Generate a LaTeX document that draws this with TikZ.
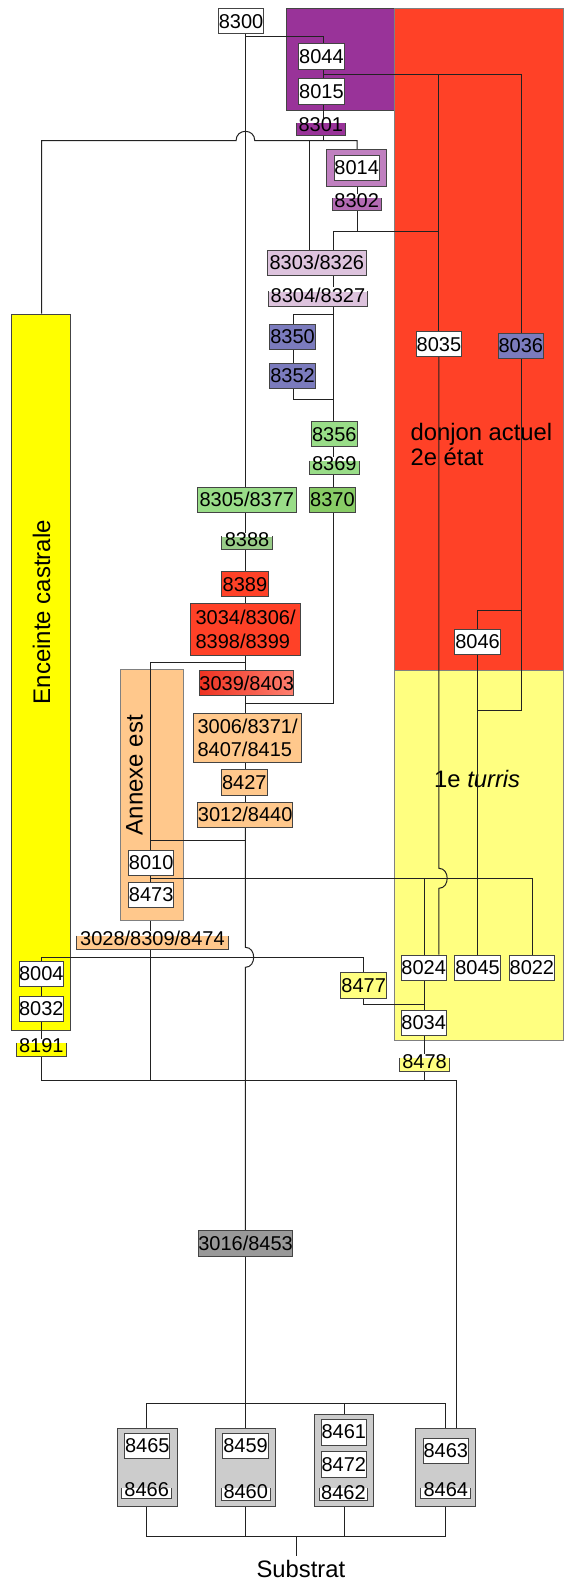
\documentclass[tikz,border=0pt]{standalone}
\usepackage{fontspec}
\setmainfont{Liberation Sans}
\usetikzlibrary{fit}
\definecolor{cPurple}{HTML}{993399}
\definecolor{cRed}{HTML}{FF4127}
\definecolor{cTurris}{HTML}{FFFF80}
\definecolor{cEnc}{HTML}{FFFF00}
\definecolor{cPeach}{HTML}{FFC88C}
\definecolor{cMauve}{HTML}{C080C0}
\definecolor{cMauveB}{HTML}{B36BB3}
\definecolor{cLilac}{HTML}{DDC3DD}
\definecolor{cViolet}{HTML}{7B7BBD}
\definecolor{cGreen}{HTML}{99DD88}
\definecolor{cGreenB}{HTML}{88CC66}
\definecolor{cGreenC}{HTML}{99CC88}
\definecolor{cGrey}{HTML}{999999}
\definecolor{cLight}{HTML}{CCCCCC}
\definecolor{cBord}{HTML}{444444}
\definecolor{cLine}{HTML}{222222}
\definecolor{cRedL}{HTML}{FF8070}
\definecolor{cRedD}{HTML}{EE3322}
\pgfdeclarelayer{regions}
\pgfdeclarelayer{lines}
\pgfsetlayers{regions,lines,main}
\newcommand{\mkbox}[7]{\node[cell, fill=#6, minimum width={(#4-#2)*0.551pt}, minimum height={(#5-#3)*0.5pt}] (n#1) at ({(#2+#4)/2},{(#3+#5)/2}) {#7};}
\newcommand{\mklab}[8]{%
  \node[brk, fill=#6, minimum width={(#4-#2)*0.551pt}, minimum height={(#5-#3)*0.5pt}] (f#1) at ({(#2+#4)/2},{(#3+#5)/2}) {};
  \draw[cBord, line width=0.5pt] (f#1.north west) -- (f#1.south west) -- (f#1.south east) -- (f#1.north east);
  \node[txt] (n#1) at ({(#2+#4)/2},#8) {#7};}
\begin{document}
\begin{tikzpicture}[x=0.551pt,y=-0.5pt,
  every node/.style={font=\fontsize{10}{11.7}\selectfont, text=black},
  cell/.style={rectangle, draw=cBord, line width=0.5pt, inner sep=0pt, align=left},
  brk/.style={rectangle, draw=none, inner sep=0pt},
  txt/.style={inner sep=0pt},
  region/.style={rectangle, inner sep=0pt, line width=0.5pt},
  big/.style={font=\fontsize{11.9}{12.5}\selectfont},
  conn/.style={draw=cLine, line width=0.5pt}]
\useasboundingbox (0,0) rectangle (522.7,1584);
\coordinate (cM) at (222.7,0);
\coordinate (cA) at (293.3,0);
\coordinate (cB) at (281,0);
\coordinate (cC) at (324,0);
\coordinate (cD) at (302.3,0);
\coordinate (cE) at (266.3,0);
\coordinate (cF) at (398.3,0);
\coordinate (cG) at (473,0);
\coordinate (cH) at (433.3,0);
\coordinate (cI) at (37.7,0);
\coordinate (cJ) at (136.7,0);
\coordinate (cK) at (385,0);
\coordinate (cL) at (483,0);
\coordinate (cN) at (330,0);
\coordinate (cO) at (414,0);
\coordinate (cP) at (133.3,0);
\coordinate (cR) at (312.3,0);
\coordinate (cQ) at (404,0);
\coordinate (cS) at (269,0);

\begin{pgfonlayer}{regions}
\node[region, fill=cPurple, draw=cBord, fit={(260,9)(357.7,111)}] (rPurple) {};
\node[region, fill=cRed, draw=gray, fit={(357.7,9)(511,670)}] (rRed) {};
\node[region, fill=cTurris, draw=gray, fit={(357.7,670)(511,1040.7)}] (rTurris) {};
\node[region, fill=cEnc, draw=cBord, fit={(10.7,314)(64.3,1030.7)}] (enc) {};
\node[region, fill=cPeach, draw=gray, fit={(109.3,669.3)(166.7,920)}] (annexe) {};
\node[big, anchor=north west, align=left, inner sep=0pt] (tDonjon) at (372.3,423) {donjon actuel\\2e état};
\node[big, inner sep=0pt] (tTurris) at (433,779) {1e \textit{turris}};
\node[font=\fontsize{12}{14}\selectfont, rotate=90, inner sep=0pt] (tEnc) at (37.7,612) {Enceinte castrale};
\node[font=\fontsize{12}{14}\selectfont, rotate=90, inner sep=0pt] (tAnn) at (122,775) {Annexe est};
\end{pgfonlayer}

\mkbox{8300}{198.3}{9}{239.3}{34}{white}{8300}
\mkbox{8044}{271}{43.7}{312.3}{69.3}{white}{8044}
\mkbox{8015}{271}{79}{312.3}{104.3}{white}{8015}
\mklab{8301}{269}{123.3}{313.3}{135}{cPurple}{8301}{125}
\node[cell, fill=cMauve, minimum width=30.14pt, minimum height=18.35pt] (o8014) at (323.35,167.65) {};
\mkbox{8014}{303.3}{155}{344}{180.7}{white}{8014}
\mklab{8302}{301.7}{198.3}{345.7}{210}{cMauveB}{8302}{201}
\mkbox{8303}{242.7}{250}{332.3}{275}{cLilac}{8303/8326}
\mklab{8304}{244.3}{291.7}{332.7}{305.7}{cLilac}{8304/8327}{295}
\mkbox{8350}{245}{324.3}{286}{349.3}{cViolet}{8350}
\mkbox{8352}{245}{363.3}{286}{388.3}{cViolet}{8352}
\mkbox{8035}{377.7}{331.7}{419}{356.7}{white}{8035}
\mkbox{8036}{452.3}{333.3}{493}{358.7}{cViolet}{8036}
\mkbox{8356}{282.7}{421.7}{324}{446.7}{cGreen}{8356}
\mklab{8369}{281}{461}{325.7}{474}{cGreen}{8369}{464}
\mkbox{8305}{179}{487}{269}{512.3}{cGreen}{8305/8377}
\mkbox{8370}{281}{487}{322.3}{512.3}{cGreenB}{8370}
\mklab{8388}{201.7}{536.7}{246.7}{549.3}{cGreenC}{8388}{540}
\mkbox{8389}{201.3}{571.7}{243.3}{596.7}{cRed}{8389}
\mkbox{3034}{173}{603.3}{272.7}{655}{cRed}{3034/8306/\\8398/8399}
\mkbox{8046}{412.7}{629}{454}{654}{white}{8046}
\node[cell, left color=cRedD, right color=cRedL, minimum width=47.22pt, minimum height=12.5pt] (n3039) at (223.85,683.2) {3039/8403};
\mkbox{3006}{176}{713.3}{273.3}{762.7}{cPeach}{3006/8371/\\8407/8415}
\mkbox{8427}{201}{769.3}{242.3}{795}{cPeach}{8427}
\mkbox{3012}{180}{802.3}{265}{827.3}{cPeach}{3012/8440}
\mkbox{8010}{116.7}{850}{157.7}{875.7}{white}{8010}
\mkbox{8473}{116.7}{882.3}{157.7}{907.3}{white}{8473}
\mklab{3028}{70}{936}{206.7}{949}{cPeach}{3028/8309/8474}{938.3}
\mkbox{8004}{17.3}{961}{57.7}{986.7}{white}{8004}
\mkbox{8032}{17.3}{996}{57.7}{1021.7}{white}{8032}
\mkbox{8477}{309.3}{972.7}{350.7}{998.3}{cTurris}{8477}
\mkbox{8024}{364}{955}{405}{980}{white}{8024}
\mkbox{8045}{412.7}{955}{454}{980}{white}{8045}
\mkbox{8022}{462.3}{955}{503}{980}{white}{8022}
\mkbox{8034}{364}{1010}{405}{1035.7}{white}{8034}
\mklab{8191}{15}{1043.3}{60}{1056}{cEnc}{8191}{1046}
\mklab{8478}{363.3}{1058.3}{407.3}{1071}{cTurris}{8478}{1061.3}
\mkbox{3016}{180}{1230.3}{265.7}{1256}{cGrey}{3016/8453}
\mkbox{o8465}{106.7}{1428.3}{160.7}{1506}{cLight}{}
\mkbox{o8459}{195.7}{1428.3}{250}{1506}{cLight}{}
\mkbox{o8461}{285}{1414}{339.3}{1506}{cLight}{}
\mkbox{o8463}{377.3}{1428.3}{431.7}{1506}{cLight}{}
\mkbox{8465}{113.3}{1433.3}{154}{1458.3}{white}{8465}
\mklab{8466}{111}{1488.3}{155.3}{1498.3}{white}{8466}{1489.7}
\mkbox{8459}{202.3}{1433.3}{243.3}{1458.3}{white}{8459}
\mklab{8460}{201}{1488.3}{245}{1500}{white}{8460}{1491.7}
\mkbox{8461}{291.7}{1419}{332.3}{1445}{white}{8461}
\mkbox{8472}{291.7}{1451.7}{332.3}{1477.3}{white}{8472}
\mklab{8462}{290}{1488.3}{333.3}{1500}{white}{8462}{1492.5}
\mkbox{8463}{384}{1438.3}{425}{1463.3}{white}{8463}
\mklab{8464}{382.3}{1488}{426.7}{1498.3}{white}{8464}{1489.5}
\node[big, inner sep=0pt] (sub) at (273,1569) {Substrat};

\begin{pgfonlayer}{lines}
\draw[conn] (n8300.south -| cM) -- (n8305.north -| cM);
\draw[conn] (222.7,36.7) -| (n8044.north -| cA);
\draw[conn] (n8044.south -| cA) -- (n8015.north -| cA);
\draw[conn] (293.3,74.3) -- (473,74.3) -- (n8036.north -| cG);
\draw[conn] (398.3,74.3) -- (n8035.north -| cF);
\draw[conn] (n8015.south -| cA) -- (n8301.north -| cA);
\draw[conn] (f8301.south -| cA) -- (293.3,140.7);
\draw[conn] (enc.north -| cI) -- (37.7,140.7) -- (214.2,140.7)
   .. controls (214.2,128.2) and (231.2,128.2) .. (231.2,140.7) -- (324,140.7) -- (o8014.north -| cC);
\draw[conn] (281,140.7) -- (n8303.north -| cB);
\draw[conn] (o8014.south -| cC) -- (n8302.north -| cC);
\draw[conn] (f8302.south -| cC) -- (324,231.7);
\draw[conn] (n8303.north -| cD) -- (302.3,231.7) -- (398.3,231.7);
\draw[conn] (n8303.south -| cD) -- (n8304.north -| cD);
\draw[conn] (f8304.south -| cD) -- (n8356.north -| cD);
\draw[conn] (302.3,314) -| (n8350.north -| cE);
\draw[conn] (n8350.south -| cE) -- (n8352.north -| cE);
\draw[conn] (n8352.south -| cE) |- (302.3,399);
\draw[conn] (n8356.south -| cD) -- (n8369.north -| cD);
\draw[conn] (f8369.south -| cD) -- (n8370.north -| cD);
\draw[conn] (n8370.south -| cD) |- (222.7,703.3);
\draw[conn] (n8305.south -| cM) -- (n8388.north -| cM);
\draw[conn] (f8388.south -| cM) -- (n8389.north -| cM);
\draw[conn] (n8389.south -| cM) -- (n3034.north -| cM);
\draw[conn] (n3034.south -| cM) -- (n3039.north -| cM);
\draw[conn] (n3039.south -| cM) -- (n3006.north -| cM);
\draw[conn] (n3006.south -| cM) -- (n8427.north -| cM);
\draw[conn] (n8427.south -| cM) -- (n3012.north -| cM);
\draw[conn] (222.7,662.7) -| (n8010.north -| cJ);
\draw[conn] (n3012.south -| cM) -- (222.7,947.3)
   .. controls (232.7,947.3) and (232.7,967.3) .. (222.7,967.3) -- (n3016.north -| cM);
\draw[conn] (222.7,840.7) -- (136.7,840.7);
\draw[conn] (n8010.south -| cJ) -- (n8473.north -| cJ);
\draw[conn] (136.7,878.3) -- (483,878.3) -- (n8022.north -| cL);
\draw[conn] (385,878.3) -- (n8024.north -| cK);
\draw[conn] (n8035.south -| cF) -- (398.3,868.3)
   .. controls (408.3,868.3) and (408.3,888.3) .. (398.3,888.3) -- (n8024.north -| cF);
\draw[conn] (n8036.south -| cG) -- (473,710) -- (433.3,710);
\draw[conn] (473,610) -| (n8046.north -| cH);
\draw[conn] (n8046.south -| cH) -- (n8045.north -| cH);
\draw[conn] (annexe.south -| cJ) -- (n3028.north -| cJ);
\draw[conn] (f3028.south -| cJ) -- (136.7,1080.3);
\draw[conn] (n8004.north -| cI) -- (37.7,957.3) -- (330,957.3) -- (n8477.north -| cN);
\draw[conn] (n8004.south -| cI) -- (n8032.north -| cI);
\draw[conn] (n8032.south -| cI) -- (n8191.north -| cI);
\draw[conn] (f8191.south -| cI) -- (37.7,1080.3) -- (414,1080.3) -- (no8463.north -| cO);
\draw[conn] (n8477.south -| cN) |- (385,1004.3);
\draw[conn] (n8024.south -| cK) -- (n8034.north -| cK);
\draw[conn] (n8034.south -| cK) -- (n8478.north -| cK);
\draw[conn] (f8478.south -| cK) -- (385,1080.3);
\draw[conn] (n3016.south -| cM) -- (no8459.north -| cM);
\draw[conn] (no8465.north -| cP) -- (133.3,1403.3) -- (404,1403.3) -- (no8463.north -| cQ);
\draw[conn] (312.3,1403.3) -- (no8461.north -| cR);
\draw[conn] (no8465.south -| cP) -- (133.3,1536.7) -- (404,1536.7) -- (no8463.south -| cQ);
\draw[conn] (no8459.south -| cM) -- (222.7,1536.7);
\draw[conn] (no8461.south -| cR) -- (312.3,1536.7);
\draw[conn] (269,1536.7) -- ([yshift=2pt]sub.north -| cS);
\end{pgfonlayer}
\end{tikzpicture}
\end{document}
